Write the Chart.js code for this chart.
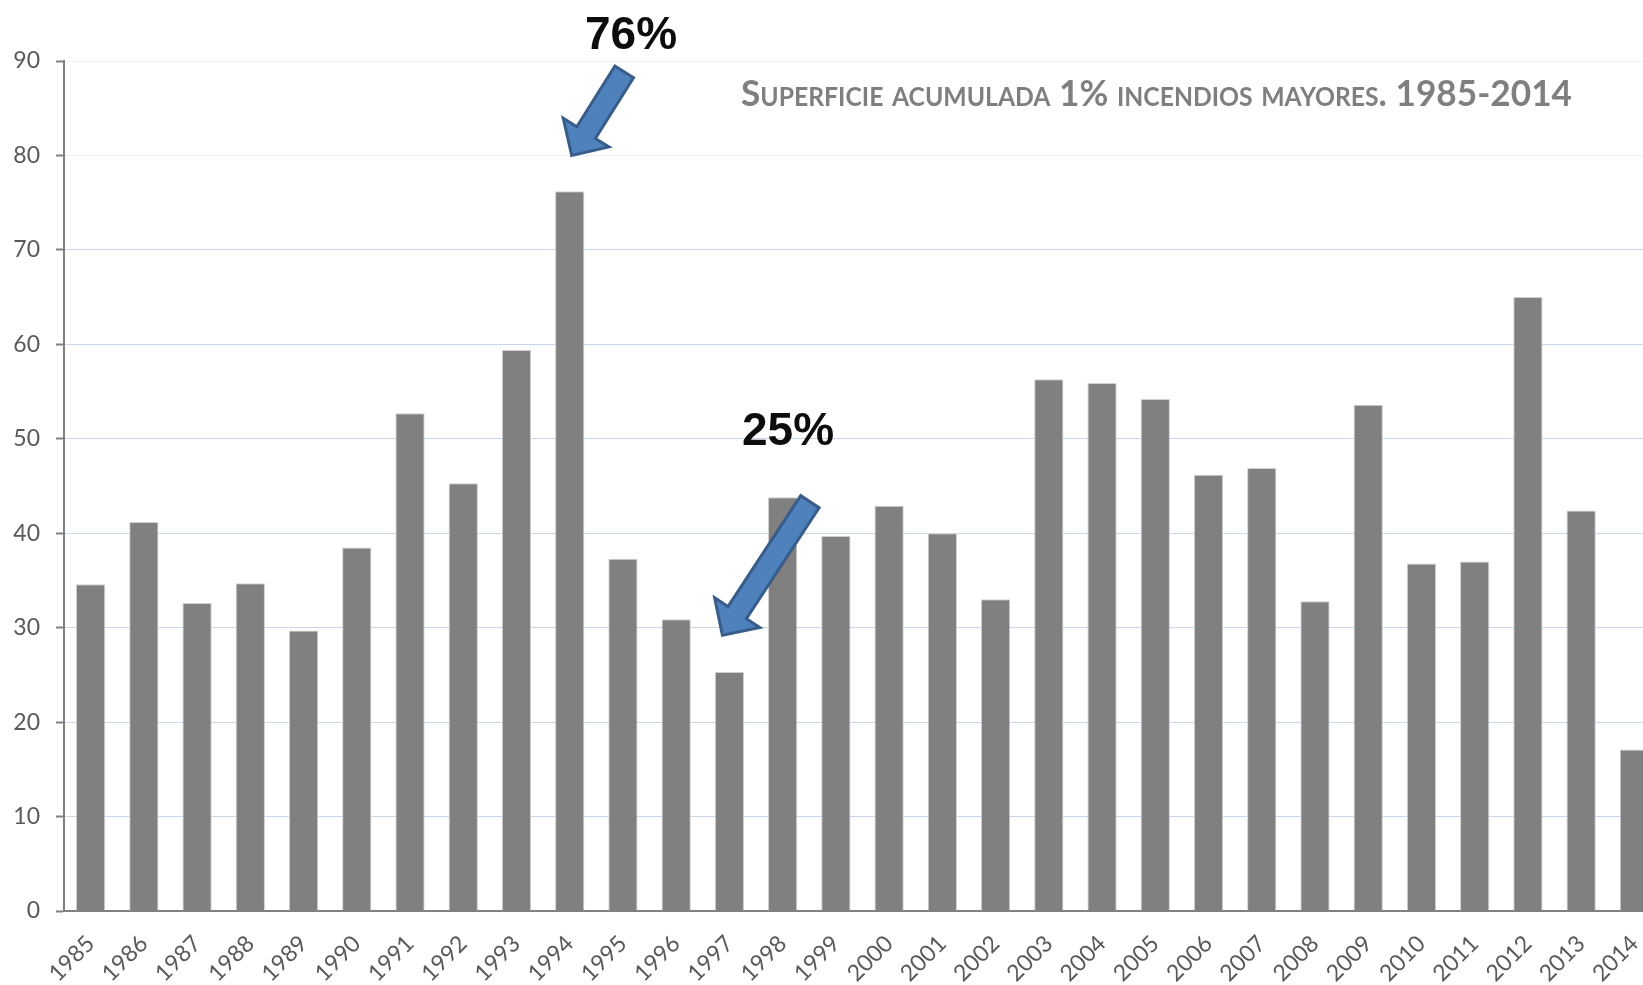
<!DOCTYPE html>
<html>
<head>
<meta charset="utf-8">
<script src="https://cdn.jsdelivr.net/npm/chart.js@4"></script>
<style>
  html, body { margin: 0; padding: 0; background: #fff; overflow: hidden; width: 1643px; height: 985px; }
  #wrap { position: absolute; left: 0; top: 0; width: 1700px; height: 985px; }
  #title { position: absolute; left: 741px; top: 73px; font-family: Lato, "Open Sans", sans-serif; font-weight: 700;
           font-size: 37px; line-height: 1; color: #7f7f7f; font-variant: small-caps; white-space: nowrap; transform-origin: 0 0; }
  .pct { position: absolute; font-family: "Liberation Sans", Arial, sans-serif; font-weight: 700; font-size: 46px;
         line-height: 1; color: #0d0d0d; white-space: nowrap; transform: translate(-50%, -50%); }
</style>
</head>
<body>
<div id="wrap"><canvas id="c" width="1700" height="985"></canvas></div>
<div id="title">Superficie acumulada 1% incendios mayores. 1985-2014</div>
<div class="pct" id="p1" style="left:631px; top:33px;">76%</div>
<div class="pct" id="p2" style="left:788px; top:429px;">25%</div>
<script>
// ---- data ----
const years = ['1985','1986','1987','1988','1989','1990','1991','1992','1993','1994',
               '1995','1996','1997','1998','1999','2000','2001','2002','2003','2004',
               '2005','2006','2007','2008','2009','2010','2011','2012','2013','2014'];
const superficie = [34.6, 41.2, 32.6, 34.7, 29.7, 38.5, 52.7, 45.3, 59.4, 76.2,
                    37.3, 30.9, 25.3, 43.8, 39.7, 42.9, 40.0, 33.0, 56.3, 55.9,
                    54.2, 46.2, 46.9, 32.8, 53.6, 36.8, 37.0, 65.0, 42.4, 17.1];
const yTicks = [0, 10, 20, 30, 40, 50, 60, 70, 80, 90];
const annotationLabels = ['76%', '25%'];
// arrows: category the arrow points at, value at tip
const arrowTargets = [
  { year: '1994', value: 80.0, dx: 2,  tail: [52.5, -83.5] },
  { year: '1997', value: 29.2, dx: -7, tail: [87.5, -133.5] }
];

Chart.defaults.font.family = 'Lato, "Open Sans", sans-serif';

const arrowPlugin = {
  id: 'arrows',
  afterDatasetsDraw(chart) {
    const ctx = chart.ctx;
    const xs = chart.scales.x, ys = chart.scales.y;
    arrowTargets.forEach(a => {
      const P = [xs.getPixelForValue(years.indexOf(a.year)) + a.dx, ys.getPixelForValue(a.value)];
      const T = [P[0] + a.tail[0], P[1] + a.tail[1]];
      const len = Math.hypot(P[0] - T[0], P[1] - T[1]);
      const u = [(P[0] - T[0]) / len, (P[1] - T[1]) / len];
      const n = [-u[1], u[0]];
      const s = 22, h = 54, L = 27;
      const B = [P[0] - u[0] * L, P[1] - u[1] * L];
      const pts = [
        [T[0] + n[0] * s / 2, T[1] + n[1] * s / 2],
        [B[0] + n[0] * s / 2, B[1] + n[1] * s / 2],
        [B[0] + n[0] * h / 2, B[1] + n[1] * h / 2],
        P,
        [B[0] - n[0] * h / 2, B[1] - n[1] * h / 2],
        [B[0] - n[0] * s / 2, B[1] - n[1] * s / 2],
        [T[0] - n[0] * s / 2, T[1] - n[1] * s / 2]
      ];
      ctx.save();
      ctx.beginPath();
      pts.forEach((p, i) => i ? ctx.lineTo(p[0], p[1]) : ctx.moveTo(p[0], p[1]));
      ctx.closePath();
      ctx.fillStyle = '#4f81bd';
      ctx.fill();
      ctx.lineWidth = 3;
      ctx.lineJoin = 'miter';
      ctx.strokeStyle = '#385d8a';
      ctx.stroke();
      ctx.restore();
    });
  }
};

new Chart(document.getElementById('c'), {
  type: 'bar',
  data: {
    labels: years,
    datasets: [{
      data: superficie,
      backgroundColor: '#808080',
      borderColor: '#cfcfcf',
      borderWidth: 1,
      categoryPercentage: 1.0,
      barPercentage: 0.55
    }]
  },
  options: {
    responsive: false,
    animation: false,
    devicePixelRatio: 1,
    layout: { padding: { top: 61, right: 39, left: 0, bottom: 0 } },
    plugins: { legend: { display: false }, tooltip: { enabled: false }, title: { display: false } },
    scales: {
      x: {
        grid: { display: false, drawTicks: false },
        border: { display: true, color: '#808080', width: 2 },
        ticks: { color: '#595959', font: { size: 23 }, minRotation: 45, maxRotation: 45, autoSkip: false, padding: 19 },
        afterFit(scale) { scale.height = 74; }
      },
      y: {
        min: 0, max: 90,
        afterBuildTicks(scale) { scale.ticks = yTicks.map(v => ({ value: v })); },
        grid: {
          color: c => (c.tick && c.tick.value >= 80) ? '#eef2f8' : '#c8d7eb',
          lineWidth: 1,
          drawTicks: true, tickLength: 8, tickColor: '#808080', tickWidth: 2
        },
        border: { display: true, color: '#808080', width: 2 },
        ticks: { color: '#595959', font: { size: 23 }, padding: 16 },
        afterFit(scale) { scale.width = 64; }
      }
    }
  },
  plugins: [arrowPlugin]
});

// fit title width to the reference
const t = document.getElementById('title');
const w = t.getBoundingClientRect().width;
t.style.transform = 'scaleX(' + (831 / w) + ')';
</script>
</body>
</html>
